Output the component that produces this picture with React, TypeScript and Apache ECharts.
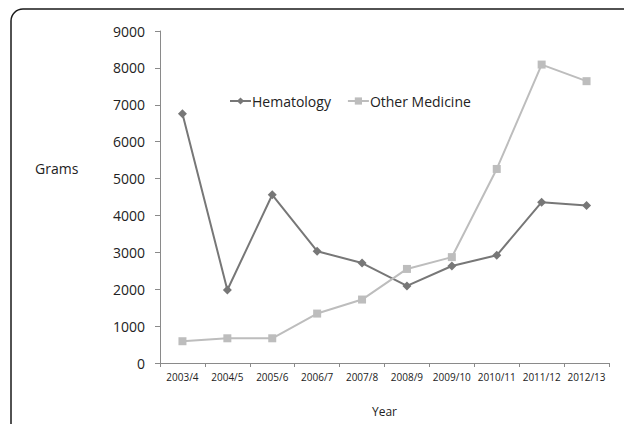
import React, { useEffect, useRef } from "react";
import * as echarts from "echarts";

const categories = ["2003/4", "2004/5", "2005/6", "2006/7", "2007/8", "2008/9", "2009/10", "2010/11", "2011/12", "2012/13"];
const hematology = [6760, 1980, 4560, 3030, 2710, 2090, 2630, 2920, 4360, 4270];
const otherMedicine = [590, 670, 670, 1340, 1720, 2550, 2870, 5260, 8090, 7640];
const yTicks = { min: 0, max: 9000, interval: 1000 };

const FONT = "'Open Sans', 'Noto Sans', sans-serif";

export default function App() {
  const ref = useRef<HTMLDivElement>(null);
  useEffect(() => {
    document.body.style.margin = "0";
    const chart = echarts.init(ref.current!, undefined, { renderer: "svg" });
    chart.setOption({
      animation: false,
      backgroundColor: "#ffffff",
      textStyle: { fontFamily: FONT },
      graphic: [
        {
          type: "rect",
          shape: { x: 11, y: 9, width: 700, height: 500, r: 12 },
          style: { fill: "none", stroke: "#1a1a1a", lineWidth: 1.5 },
          silent: true,
        },
        {
          type: "text",
          left: 35,
          top: 161,
          style: { text: "Grams", fontFamily: FONT, fontSize: 14, fill: "#222" },
        },
      ],
      legend: {
        top: 94,
        left: 229,
        padding: 0,
        itemWidth: 21,
        itemHeight: 9,
        itemGap: 16,
        textStyle: { fontFamily: FONT, fontSize: 14, color: "#222", padding: [0, 0, 0, -4] },
        data: ["Hematology", "Other Medicine"],
      },
      grid: { left: 160, right: 15, top: 31, bottom: 61, containLabel: false },
      xAxis: {
        type: "category",
        data: categories,
        boundaryGap: true,
        name: "Year",
        nameLocation: "middle",
        nameGap: 42,
        nameTextStyle: { fontFamily: FONT, fontSize: 12, color: "#222" },
        axisLine: { lineStyle: { color: "#8a8a8a", width: 1 } },
        axisTick: { show: true, interval: 0, length: 4, inside: false, lineStyle: { color: "#8a8a8a" } },
        axisLabel: { interval: 0, fontFamily: FONT, fontSize: 10, color: "#222", margin: 9 },
        splitLine: { show: false },
      },
      yAxis: {
        type: "value",
        min: yTicks.min,
        max: yTicks.max,
        interval: yTicks.interval,
        axisLine: { show: true, lineStyle: { color: "#8a8a8a", width: 1 } },
        axisTick: { show: true, length: 5, lineStyle: { color: "#8a8a8a" } },
        axisLabel: {
          fontFamily: FONT,
          fontSize: 14,
          color: "#222",
          margin: 15,
          formatter: (v: number) => String(v),
        },
        splitLine: { show: false },
      },
      series: [
        {
          name: "Hematology",
          type: "line",
          data: hematology,
          symbol: "diamond",
          symbolSize: 9,
          lineStyle: { color: "#777777", width: 2 },
          itemStyle: { color: "#777777" },
        },
        {
          name: "Other Medicine",
          type: "line",
          data: otherMedicine,
          symbol: "rect",
          symbolSize: 8,
          lineStyle: { color: "#bdbdbd", width: 2 },
          itemStyle: { color: "#bdbdbd" },
        },
      ],
    });
    return () => chart.dispose();
  }, []);
  return <div ref={ref} style={{ width: 624, height: 424 }} />;
}
